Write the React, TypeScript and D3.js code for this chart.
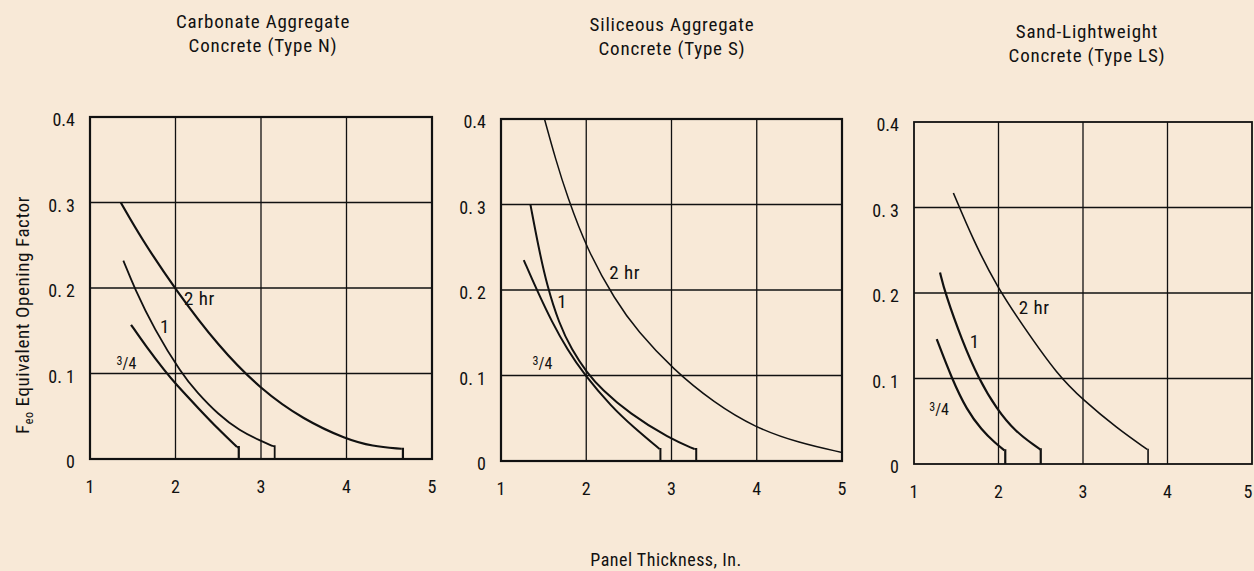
import React from "react";
import * as d3 from "d3";

// ---------- DATA ----------
const xTicks = [1, 2, 3, 4, 5];
const yTicks = [0, 0.1, 0.2, 0.3, 0.4];
const yTickLabels = ["0", "0. 1", "0. 2", "0. 3", "0.4"];
const panelTitles = [
  ["Carbonate Aggregate", "Concrete (Type N)"],
  ["Siliceous Aggregate", "Concrete (Type S)"],
  ["Sand-Lightweight", "Concrete (Type LS)"],
];
const seriesNames = ["2 hr", "1", "3/4"];

// Carbonate (Type N)
const carb2hrX = [1.36, 1.6, 2.0, 2.5, 3.0, 3.5, 4.0, 4.3, 4.64];
const carb2hrY = [0.3, 0.258, 0.198, 0.132, 0.081, 0.046, 0.023, 0.015, 0.012];
const carb1X = [1.39, 1.52, 1.75, 2.07, 2.25, 2.5, 2.75, 3.0, 3.14];
const carb1Y = [0.232, 0.2, 0.152, 0.1, 0.078, 0.052, 0.033, 0.021, 0.015];
const carb34X = [1.48, 1.66, 1.883, 2.0, 2.28, 2.5, 2.72];
const carb34Y = [0.157, 0.131, 0.102, 0.088, 0.058, 0.035, 0.014];
const carbDrop = [4.66, 3.16, 2.74];

// Siliceous (Type S)
const sil2hrX = [1.51, 1.64, 1.775, 2.01, 2.34, 2.6, 3.02, 3.5, 3.98, 4.5, 5.0];
const sil2hrY = [0.4, 0.353, 0.31, 0.247, 0.188, 0.152, 0.107, 0.068, 0.039, 0.021, 0.01];
const sil1X = [1.345, 1.44, 1.54, 1.68, 1.83, 2.01, 2.18, 2.5, 2.98, 3.27];
const sil1Y = [0.3, 0.25, 0.205, 0.161, 0.13, 0.103, 0.084, 0.056, 0.026, 0.014];
const sil34X = [1.267, 1.42, 1.6, 1.78, 1.97, 2.3, 2.55, 2.86];
const sil34Y = [0.235, 0.2, 0.162, 0.13, 0.102, 0.063, 0.04, 0.014];
const silDrop = [null, 3.29, 2.87];

// Sand-Lightweight (Type LS)
const ls2hrX = [1.466, 1.7, 1.98, 2.3, 2.7, 3.0, 3.4, 3.76];
const ls2hrY = [0.317, 0.262, 0.2075, 0.16, 0.104, 0.075, 0.042, 0.017];
const ls1X = [1.308, 1.368, 1.566, 1.763, 1.98, 2.2, 2.435, 2.495];
const ls1Y = [0.224, 0.2, 0.145, 0.1, 0.064, 0.038, 0.021, 0.017];
const ls34X = [1.269, 1.447, 1.625, 1.8, 1.96, 2.07];
const ls34Y = [0.146, 0.1, 0.063, 0.04, 0.0245, 0.016];
const lsDrop = [3.77, 2.5, 2.08];

// label anchor positions (data coords: x start, baseline y)
const carbLabelX = [2.1, 1.82, 1.31];
const carbLabelY = [0.18, 0.147, 0.105];
const silLabelX = [2.27, 1.66, 1.37];
const silLabelY = [0.213, 0.179, 0.108];
const lsLabelX = [2.24, 1.66, 1.18];
const lsLabelY = [0.175, 0.136, 0.057];

const panelData = [
  { xs: [carb2hrX, carb1X, carb34X], ys: [carb2hrY, carb1Y, carb34Y], drop: carbDrop, lx: carbLabelX, ly: carbLabelY },
  { xs: [sil2hrX, sil1X, sil34X], ys: [sil2hrY, sil1Y, sil34Y], drop: silDrop, lx: silLabelX, ly: silLabelY },
  { xs: [ls2hrX, ls1X, ls34X], ys: [ls2hrY, ls1Y, ls34Y], drop: lsDrop, lx: lsLabelX, ly: lsLabelY },
];

// ---------- LAYOUT ----------
const W = 1254;
const H = 571;
const BG = "#f8e9d7";
const INK = "#111111";
const FONT = "'Liberation Sans Narrow', 'Roboto Condensed', Roboto, sans-serif";
const panelLeft = [90, 501, 914];
const panelRight = [432, 842, 1252];
const panelTop = [117, 119, 122];
const panelBottom = [459, 461, 464];
const titleCX = [263, 672, 1087];
const titleY1 = [28, 31, 38];
const curveWidths = [
  [2.2, 1.8, 2.2],
  [1.5, 2.0, 2.0],
  [1.6, 2.2, 2.2],
];

function Label({ text, x, y }: { text: string; x: number; y: number }) {
  if (text === "3/4") {
    return (
      <text x={x} y={y} fontFamily={FONT} fontSize={16} fill={INK}>
        <tspan fontSize={12} dy={-4}>3</tspan>
        <tspan dy={4}>/4</tspan>
      </text>
    );
  }
  return (
    <text x={x} y={y} fontFamily={FONT} fontSize={19} letterSpacing={0.5} fill={INK}>
      {text}
    </text>
  );
}

function Panel({ i }: { i: number }) {
  const d = panelData[i];
  const x = d3.scaleLinear().domain([1, 5]).range([panelLeft[i], panelRight[i]]);
  const y = d3.scaleLinear().domain([0, 0.4]).range([panelBottom[i], panelTop[i]]);
  const line = d3
    .line<[number, number]>()
    .x((p) => x(p[0]))
    .y((p) => y(p[1]))
    .curve(d3.curveBasis);
  const straight = d3
    .line<[number, number]>()
    .x((p) => x(p[0]))
    .y((p) => y(p[1]));

  return (
    <g>
      {/* grid */}
      {xTicks.slice(1, -1).map((t) => (
        <line key={"gx" + t} x1={x(t)} x2={x(t)} y1={y(0)} y2={y(0.4)} stroke={INK} strokeWidth={1.3} />
      ))}
      {yTicks.slice(1, -1).map((t) => (
        <line key={"gy" + t} x1={x(1)} x2={x(5)} y1={y(t)} y2={y(t)} stroke={INK} strokeWidth={1.3} />
      ))}
      {/* frame */}
      <rect
        x={x(1)}
        y={y(0.4)}
        width={x(5) - x(1)}
        height={y(0) - y(0.4)}
        fill="none"
        stroke={INK}
        strokeWidth={i === 2 ? 1.8 : 2.2}
      />
      {/* tick labels */}
      {yTicks.map((t, k) => (
        <text
          key={"ty" + t}
          x={x(1) - 15}
          y={y(t) + 9}
          textAnchor="end"
          fontFamily={FONT}
          fontSize={18}
          fill={INK}
        >
          {yTickLabels[k]}
        </text>
      ))}
      {xTicks.map((t) => (
        <text
          key={"tx" + t}
          x={Math.min(x(t), W - 6)}
          y={y(0) + 34}
          textAnchor="middle"
          fontFamily={FONT}
          fontSize={18}
          fill={INK}
        >
          {t}
        </text>
      ))}
      {/* curves */}
      {d.xs.map((xs, s) => {
        const pts = xs.map((v, k) => [v, d.ys[s][k]] as [number, number]);
        const last = pts[pts.length - 1];
        const dx = d.drop[s];
        return (
          <g key={"c" + s}>
            <path d={line(pts) || ""} fill="none" stroke={INK} strokeWidth={curveWidths[i][s]} />
            {dx != null && (
              <path
                d={straight([last, [dx, last[1]], [dx, 0]]) || ""}
                fill="none"
                stroke={INK}
                strokeWidth={curveWidths[i][s]}
                strokeLinejoin="miter"
              />
            )}
          </g>
        );
      })}
      {/* curve labels */}
      {seriesNames.map((n, s) => (
        <Label key={"l" + s} text={n} x={x(d.lx[s])} y={y(d.ly[s])} />
      ))}
      {/* title */}
      <text textAnchor="middle" fontFamily={FONT} fontSize={19} letterSpacing={0.8} fill={INK}>
        <tspan x={titleCX[i]} y={titleY1[i]}>{panelTitles[i][0]}</tspan>
        <tspan x={titleCX[i]} y={titleY1[i] + 24}>{panelTitles[i][1]}</tspan>
      </text>
    </g>
  );
}

export default function App() {
  return (
    <svg
      width={W}
      height={H}
      style={{ position: "absolute", left: 0, top: 0, background: BG }}
    >
      <rect x={0} y={0} width={W} height={H} fill={BG} />
      {[0, 1, 2].map((i) => (
        <Panel key={i} i={i} />
      ))}
      <text
        transform="translate(29,315) rotate(-90)"
        textAnchor="middle"
        fontFamily={FONT}
        fontSize={19}
        letterSpacing={0.6}
        fill={INK}
      >
        F<tspan fontSize={12} dy={4}>eo</tspan>
        <tspan dy={-4}> Equivalent Opening Factor</tspan>
      </text>
      <text
        x={666}
        y={566}
        textAnchor="middle"
        fontFamily={FONT}
        fontSize={18}
        letterSpacing={0.5}
        fill={INK}
      >
        Panel Thickness, In.
      </text>
    </svg>
  );
}
